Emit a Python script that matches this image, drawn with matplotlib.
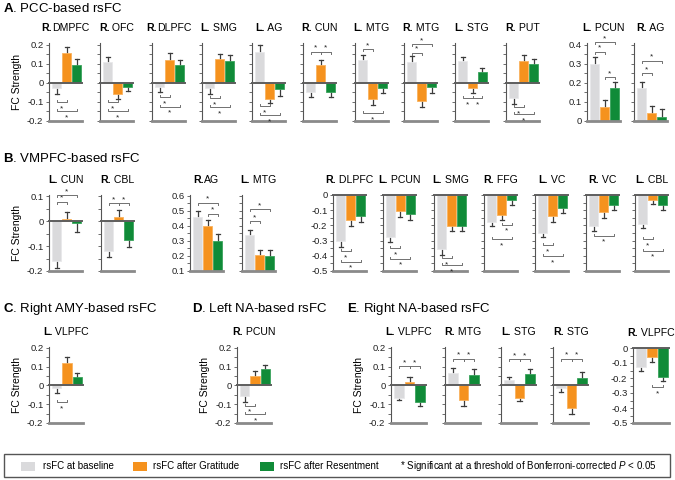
import numpy as np
import matplotlib
matplotlib.use('Agg')
import matplotlib.pyplot as plt
from matplotlib.patches import Rectangle
from matplotlib.offsetbox import TextArea, HPacker, AnnotationBbox
from matplotlib.ticker import MultipleLocator, FuncFormatter, NullFormatter

plt.rcParams['font.family'] = ['Liberation Sans', 'DejaVu Sans']
plt.rcParams['mathtext.fontset'] = 'custom'
plt.rcParams['mathtext.rm'] = 'Liberation Sans'
plt.rcParams['mathtext.it'] = 'Liberation Sans:italic'
plt.rcParams['mathtext.bf'] = 'Liberation Sans:bold'
plt.rcParams['axes.unicode_minus'] = False

# ---- data (FC strength: baseline / after gratitude / after resentment, with SE) ----
# sig entries: (bar i, bar j, bracket height)
A1_labels = ['R.DMPFC', 'R. OFC', 'R.DLPFC', 'L. SMG', 'L. AG', 'R. CUN', 'L. MTG', 'R. MTG', 'L. STG', 'R. PUT']
A1_base = [-0.027, 0.110, -0.021, -0.028, 0.165, -0.046, 0.119, 0.110, 0.114, -0.080]
A1_base_se = [0.030, 0.028, 0.029, 0.031, 0.034, 0.029, 0.027, 0.032, 0.025, 0.030]
A1_grat = [0.160, -0.057, 0.123, 0.124, -0.082, 0.092, -0.085, -0.094, -0.027, 0.116]
A1_grat_se = [0.030, 0.026, 0.032, 0.026, 0.026, 0.027, 0.031, 0.030, 0.026, 0.032]
A1_res = [0.094, -0.021, 0.094, 0.117, -0.032, -0.046, -0.027, -0.023, 0.060, 0.101]
A1_res_se = [0.034, 0.023, 0.027, 0.031, 0.039, 0.027, 0.028, 0.030, 0.020, 0.027]
A1_sig = [[(0, 1, -0.100), (0, 2, -0.149)], [(0, 1, -0.101), (0, 2, -0.149)],
          [(0, 1, -0.075), (0, 2, -0.125)], [(0, 1, -0.080), (0, 2, -0.128)],
          [(0, 1, -0.121), (0, 2, -0.169)], [(0, 1, 0.165), (1, 2, 0.165)],
          [(0, 1, 0.178), (0, 2, -0.160)], [(0, 1, 0.160), (0, 2, 0.204)],
          [(0, 1, -0.080), (1, 2, -0.080)], [(0, 1, -0.128), (0, 2, -0.165)]]

A2_labels = ['L. PCUN', 'R. AG']
A2_base = [0.300, 0.174]
A2_base_se = [0.038, 0.032]
A2_grat = [0.075, 0.041]
A2_grat_se = [0.036, 0.040]
A2_res = [0.174, 0.022]
A2_res_se = [0.032, 0.039]
A2_sig = [[(0, 1, 0.364), (0, 2, 0.413), (1, 2, 0.230)], [(0, 1, 0.251), (0, 2, 0.318)]]

B1_labels = ['L. CUN', 'R. CBL']
B1_base = [-0.161, -0.120]
B1_base_se = [0.025, 0.023]
B1_grat = [0.007, 0.016]
B1_grat_se = [0.029, 0.030]
B1_res = [-0.007, -0.076]
B1_res_se = [0.038, 0.029]
B1_sig = [[(0, 1, 0.078), (0, 2, 0.103)], [(0, 1, 0.073), (1, 2, 0.073)]]

B2_labels = ['R.AG', 'L. MTG']
B2_base = [0.460, 0.341]
B2_base_se = [0.036, 0.029]
B2_grat = [0.402, 0.204]
B2_grat_se = [0.036, 0.033]
B2_res = [0.300, 0.197]
B2_res_se = [0.048, 0.043]
B2_sig = [[(0, 2, 0.555), (1, 2, 0.480)], [(0, 1, 0.430), (0, 2, 0.510)]]

B3_labels = ['R. DLPFC', 'L. PCUN', 'L. SMG', 'R. FFG', 'L. VC', 'R. VC', 'L. CBL']
B3_base = [-0.300, -0.278, -0.356, -0.178, -0.249, -0.207, -0.193]
B3_base_se = [0.040, 0.029, 0.040, 0.026, 0.029, 0.031, 0.025]
B3_grat = [-0.167, -0.104, -0.207, -0.129, -0.140, -0.113, -0.036]
B3_grat_se = [0.040, 0.040, 0.033, 0.033, 0.036, 0.038, 0.024]
B3_res = [-0.138, -0.124, -0.202, -0.036, -0.084, -0.064, -0.067]
B3_res_se = [0.042, 0.038, 0.036, 0.033, 0.036, 0.034, 0.033]
B3_sig = [[(0, 1, -0.371), (0, 2, -0.440)], [(0, 1, -0.351), (0, 2, -0.418)],
          [(0, 1, -0.416), (0, 2, -0.460)], [(1, 2, -0.196), (0, 2, -0.291)],
          [(0, 1, -0.329), (0, 2, -0.402)], [(0, 2, -0.269)],
          [(0, 1, -0.291), (0, 2, -0.367)]]

C_labels = ['L. VLPFC']
C_base = [-0.014]
C_base_se = [0.025]
C_grat = [0.118]
C_grat_se = [0.032]
C_res = [0.045]
C_res_se = [0.019]
C_sig = [[(0, 1, -0.089)]]

D_labels = ['R. PCUN']
D_base = [-0.057]
D_base_se = [0.029]
D_grat = [0.050]
D_grat_se = [0.027]
D_res = [0.086]
D_res_se = [0.023]
D_sig = [[(0, 1, -0.107), (0, 2, -0.152)]]

E1_labels = ['L. VLPFC', 'R. MTG', 'L. STG', 'R. STG']
E1_base = [-0.066, 0.068, 0.027, -0.012]
E1_base_se = [0.014, 0.027, 0.019, 0.022]
E1_grat = [0.018, -0.080, -0.066, -0.120]
E1_grat_se = [0.028, 0.027, 0.018, 0.030]
E1_res = [-0.088, 0.054, 0.059, 0.041]
E1_res_se = [0.023, 0.035, 0.030, 0.030]
E1_sig = [[(0, 1, 0.104), (1, 2, 0.104)], [(0, 1, 0.143), (1, 2, 0.143)],
          [(0, 1, 0.139), (1, 2, 0.139)], [(0, 1, 0.143), (1, 2, 0.143)]]

E2_labels = ['R. VLPFC']
E2_base = [-0.129]
E2_base_se = [0.027]
E2_grat = [-0.062]
E2_grat_se = [0.031]
E2_res = [-0.193]
E2_res_se = [0.029]
E2_sig = [[(1, 2, -0.260)]]

legend_labels = ['rsFC at baseline', 'rsFC after Gratitude', 'rsFC after Resentment']
footnote = r'* Significant at a threshold of Bonferroni-corrected $P$ < 0.05'

GRAY, ORANGE, GREEN = '#dadadc', '#f5921e', '#108b38'
EDGES = ['#e8e8ea', '#f9b25e', '#3aa35c']
ERR = '#3c3c3c'
W, H = 675, 480

fig = plt.figure(figsize=(W / 100, H / 100), dpi=100)


def fmt(v, pos):
    v = round(v, 2)
    if v == 0:
        return '0'
    return f'{v:g}'


def add_title(ax, s, size=7.6):
    side, rest = s.split('.', 1)
    box = HPacker(children=[TextArea(side + '.', textprops=dict(fontweight='bold', fontsize=size)),
                            TextArea(rest, textprops=dict(fontsize=size))],
                  sep=0, pad=0, align='baseline')
    ab = AnnotationBbox(box, (0.5, 1), xycoords='axes fraction', xybox=(0, 10.5),
                        boxcoords='offset points', frameon=False, box_alignment=(0.5, 0.5),
                        annotation_clip=False, pad=0)
    ax.add_artist(ab)


def draw_group(lefts, width, top, bottom, ylim, major, labels, base, base_se,
               grat, grat_se, res, res_se, sig, ylabel=False):
    unit = (ylim[1] - ylim[0]) / (bottom - top)  # data units per pixel
    for k, left in enumerate(lefts):
        ax = fig.add_axes([left / W, 1 - bottom / H, width / W, (bottom - top) / H])
        vals = [base[k], grat[k], res[k]]
        ses = [base_se[k], grat_se[k], res_se[k]]
        x = np.arange(3)
        ax.bar(x, vals, width=0.92, color=[GRAY, ORANGE, GREEN], edgecolor=EDGES,
               linewidth=0.6, zorder=2)
        for xi, v, s in zip(x, vals, ses):
            end = v + s if v >= 0 else v - s
            ax.plot([xi, xi], [v, end], color=ERR, lw=0.9, zorder=1, clip_on=False)
            ax.plot([xi - 0.2, xi + 0.2], [end, end], color=ERR, lw=0.9, zorder=1, clip_on=False)
        if ylim[0] < 0 <= ylim[1] + 1e-9:
            ax.axhline(0, color='#5e5e5e', lw=1.4, zorder=3, clip_on=False)
        for i, j, y in sig[k]:
            above = y > (vals[i] + vals[j]) / 2
            d = -1 if above else 1
            ax.plot([i, i, j, j], [y + d * 2 * unit, y, y, y + d * 2 * unit],
                    color='#707070', lw=0.7, clip_on=False, zorder=4)
            ax.text((i + j) / 2, y - d * 5 * unit - 1.5 * unit, '*', ha='center', va='center',
                    fontsize=6, color='#222222', clip_on=False)
        ax.set_xlim(-0.75, 2.55)
        ax.set_ylim(*ylim)
        ax.set_xticks([])
        ax.yaxis.set_major_locator(MultipleLocator(major))
        ax.yaxis.set_minor_locator(MultipleLocator(major / 2))
        ax.tick_params(axis='y', which='both', length=2, width=0.6, color='#555555',
                       labelsize=6.8, pad=2, labelcolor='#222222')
        if k == 0:
            ax.yaxis.set_major_formatter(FuncFormatter(fmt))
            if ylabel:
                ax.set_ylabel('FC Strength', fontsize=7.5, labelpad=4)
        else:
            ax.yaxis.set_major_formatter(NullFormatter())
        for side in ['top', 'right']:
            ax.spines[side].set_visible(False)
        ax.spines['left'].set_color('#555555')
        ax.spines['left'].set_linewidth(0.8)
        ax.spines['bottom'].set_color('#8a8a8a')
        ax.spines['bottom'].set_linewidth(2)
        add_title(ax, labels[k])
        ax.patch.set_alpha(0)


draw_group([49, 100, 152, 202, 252, 303, 355, 404, 455, 506], 33, 43, 121, (-0.2, 0.21), 0.1,
           A1_labels, A1_base, A1_base_se, A1_grat, A1_grat_se, A1_res, A1_res_se, A1_sig, True)
draw_group([587, 634], 33, 43, 121, (0, 0.41), 0.1,
           A2_labels, A2_base, A2_base_se, A2_grat, A2_grat_se, A2_res, A2_res_se, A2_sig)
draw_group([49, 101], 33, 195, 271, (-0.2, 0.105), 0.1,
           B1_labels, B1_base, B1_base_se, B1_grat, B1_grat_se, B1_res, B1_res_se, B1_sig, True)
draw_group([190, 242], 33, 195, 271, (0.1, 0.605), 0.1,
           B2_labels, B2_base, B2_base_se, B2_grat, B2_grat_se, B2_res, B2_res_se, B2_sig)
draw_group([333, 383, 434, 484, 535, 586, 635], 33, 195, 271, (-0.5, 0.0), 0.1,
           B3_labels, B3_base, B3_base_se, B3_grat, B3_grat_se, B3_res, B3_res_se, B3_sig)
draw_group([49], 34, 347, 423, (-0.2, 0.205), 0.1,
           C_labels, C_base, C_base_se, C_grat, C_grat_se, C_res, C_res_se, C_sig, True)
draw_group([237], 34, 347, 423, (-0.2, 0.205), 0.1,
           D_labels, D_base, D_base_se, D_grat, D_grat_se, D_res, D_res_se, D_sig, True)
draw_group([391, 445, 501, 553], 35, 347, 423, (-0.2, 0.205), 0.1,
           E1_labels, E1_base, E1_base_se, E1_grat, E1_grat_se, E1_res, E1_res_se, E1_sig, True)
draw_group([633], 36, 348, 423, (-0.5, 0.0), 0.1,
           E2_labels, E2_base, E2_base_se, E2_grat, E2_grat_se, E2_res, E2_res_se, E2_sig)

# section headings
for txt, px, py in [(r'$\mathbf{A}$. PCC-based rsFC', 3, 8),
                    (r'$\mathbf{B}$. VMPFC-based rsFC', 3, 158),
                    (r'$\mathbf{C}$. Right AMY-based rsFC', 3, 309),
                    (r'$\mathbf{D}$. Left NA-based rsFC', 192, 309),
                    (r'$\mathbf{E}$. Right NA-based rsFC', 347, 309)]:
    fig.text(px / W, 1 - py / H, txt, fontsize=9.5, va='center', ha='left')

# legend box
fig.add_artist(Rectangle((4 / W, 1 - 477 / H), 666 / W, 23 / H, transform=fig.transFigure,
                         fill=False, edgecolor='#555555', linewidth=1))
for color, label, px, tx in zip([GRAY, ORANGE, GREEN], legend_labels, [21, 133, 260], [43, 153, 280]):
    fig.add_artist(Rectangle((px / W, 1 - 471 / H), 14 / W, 9 / H, transform=fig.transFigure,
                             facecolor=color, edgecolor='none'))
    fig.text(tx / W, 1 - 466 / H, label, fontsize=7, va='center', ha='left')
fig.text(400 / W, 1 - 466 / H, footnote, fontsize=7, va='center', ha='left')

fig.savefig('out.png', dpi=100)
